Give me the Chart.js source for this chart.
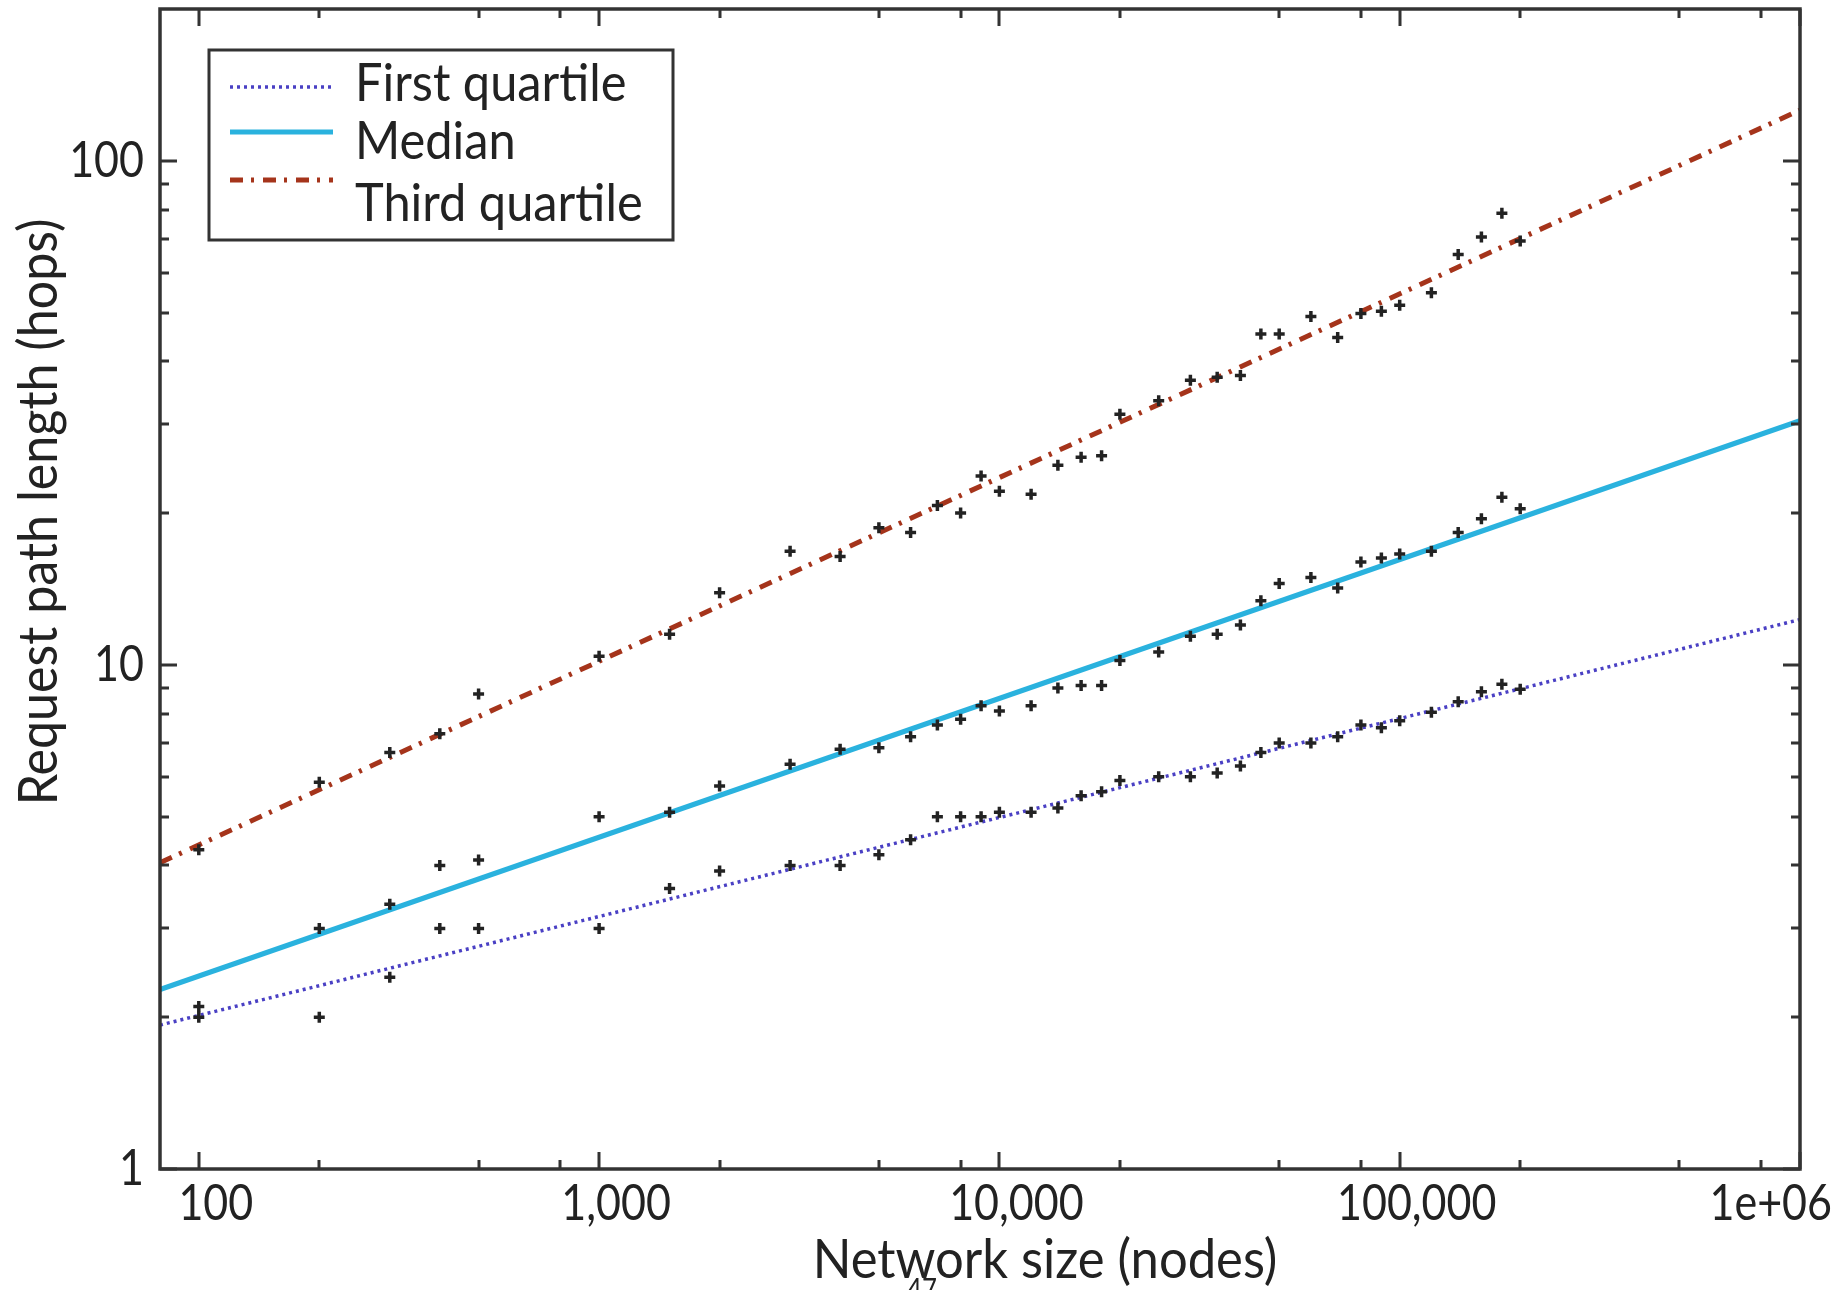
<!DOCTYPE html>
<html>
<head>
<meta charset="utf-8">
<script src="https://cdn.jsdelivr.net/npm/chart.js@4.4.1/dist/chart.umd.min.js"></script>
<style>
  html, body { margin: 0; padding: 0; background: #fff; }
</style>
</head>
<body>
<canvas id="myChart" width="1847" height="1290"></canvas>
<script>
// network sizes (nodes) where the simulation was run
var sizes = [100, 200, 300, 400, 500, 1000, 1500, 2000, 3000, 4000, 5000, 6000, 7000, 8000, 9000,
  10000, 12000, 14000, 16000, 18000, 20000, 25000, 30000, 35000, 40000, 45000, 50000, 60000,
  70000, 80000, 90000, 100000, 120000, 140000, 160000, 180000, 200000];

// measured path lengths (hops)
var firstQuartile = [2.0, 2.0, 2.4, 3.0, 3.0, 3.0, 3.6, 3.9, 4.0, 4.0, 4.2, 4.5, 5.0, 5.0, 5.0,
  5.1, 5.1, 5.2, 5.5, 5.6, 5.9, 6.0, 6.0, 6.1, 6.3, 6.7, 7.0, 7.0,
  7.2, 7.6, 7.5, 7.75, 8.05, 8.45, 8.85, 9.15, 8.95];
var median = [2.1, 3.0, 3.35, 4.0, 4.1, 5.0, 5.1, 5.75, 6.35, 6.8, 6.85, 7.2, 7.6, 7.8, 8.3,
  8.1, 8.3, 9.0, 9.1, 9.1, 10.2, 10.6, 11.4, 11.5, 12.0, 13.4, 14.5, 14.9,
  14.2, 16.0, 16.3, 16.6, 16.8, 18.3, 19.5, 21.5, 20.4];
var thirdQuartile = [4.3, 5.85, 6.7, 7.3, 8.75, 10.4, 11.5, 13.9, 16.8, 16.4, 18.7, 18.3, 20.7, 20.0, 23.7,
  22.1, 21.8, 24.9, 25.8, 26.0, 31.4, 33.4, 36.7, 37.2, 37.5, 45.3, 45.3, 49.1,
  44.6, 49.8, 50.3, 51.7, 54.7, 65.2, 70.6, 78.7, 69.3];

var fitSizes = [80, 1000000];
var firstQuartileFit = [1.93, 12.3];
var medianFit = [2.27, 30.5];
var thirdQuartileFit = [4.05, 126];

var seriesNames = ['First quartile', 'Median', 'Third quartile'];

// axes
var xRange = [80, 1000000];
var yRange = [1, 200];
var xTicks = [100, 1000, 10000, 100000, 1000000];
var xTickLabels = ['100', '1,000', '10,000', '100,000', '1e+06'];
var xMinorTicks = [200, 500, 800, 2000, 5000, 8000, 20000, 50000, 80000, 200000, 500000, 800000];
var yTicks = [1, 10, 100];
var yTickLabels = ['1', '10', '100'];
var yMinorTicks = [2, 3, 4, 5, 6, 7, 8, 9, 20, 30, 40, 50, 60, 70, 80, 90];
var xTitle = 'Network size (nodes)';
var yTitle = 'Request path length (hops)';

function toPoints(xs, ys) {
  var pts = [];
  for (var i = 0; i < xs.length; i++) {
    pts.push({ x: xs[i], y: ys[i] });
  }
  return pts;
}

var textColor = '#222';
var frameColor = '#333';

// draws text squeezed horizontally, the nearest we get to the narrow original face
function drawText(ctx, text, x, y, align, squeeze) {
  ctx.save();
  ctx.translate(x, y);
  ctx.scale(squeeze, 1);
  ctx.textAlign = align;
  ctx.fillText(text, 0, 0);
  ctx.restore();
}

function pointSet(data) {
  return {
    data: data,
    showLine: false,
    pointStyle: 'cross',
    pointRadius: 5.5,
    pointBorderWidth: 3.5,
    borderColor: '#222',
    backgroundColor: '#222',
    legendSkip: true
  };
}

function fitSet(label, data, color, width, dash) {
  return {
    label: label,
    data: data,
    showLine: true,
    borderColor: color,
    backgroundColor: color,
    borderWidth: width,
    borderDash: dash,
    pointRadius: 0,
    fill: false
  };
}

var datasets = [
  pointSet(toPoints(sizes, firstQuartile)),
  pointSet(toPoints(sizes, median)),
  pointSet(toPoints(sizes, thirdQuartile)),
  fitSet(seriesNames[0], toPoints(fitSizes, firstQuartileFit), '#4a40c4', 3.5, [3, 4]),
  fitSet(seriesNames[1], toPoints(fitSizes, medianFit), '#2ab2de', 5, []),
  fitSet(seriesNames[2], toPoints(fitSizes, thirdQuartileFit), '#a5341b', 5, [13, 8, 3, 9])
];

// frame, inward ticks, labels, titles and legend
var framePlugin = {
  id: 'frame',
  afterDraw: function (chart) {
    var ctx = chart.ctx;
    var a = chart.chartArea;
    var xs = chart.scales.x;
    var ys = chart.scales.y;
    var i, p;

    ctx.save();
    ctx.strokeStyle = frameColor;
    ctx.lineWidth = 3;
    ctx.lineCap = 'butt';

    function xTick(v, len) {
      p = Math.round(xs.getPixelForValue(v));
      ctx.beginPath();
      ctx.moveTo(p, a.bottom); ctx.lineTo(p, a.bottom - len);
      ctx.moveTo(p, a.top); ctx.lineTo(p, a.top + len);
      ctx.stroke();
    }
    function yTick(v, len) {
      p = Math.round(ys.getPixelForValue(v));
      ctx.beginPath();
      ctx.moveTo(a.left, p); ctx.lineTo(a.left + len, p);
      ctx.moveTo(a.right, p); ctx.lineTo(a.right - len, p);
      ctx.stroke();
    }
    for (i = 0; i < xTicks.length; i++) xTick(xTicks[i], 17);
    for (i = 0; i < xMinorTicks.length; i++) xTick(xMinorTicks[i], 9);
    for (i = 0; i < yTicks.length; i++) yTick(yTicks[i], 17);
    for (i = 0; i < yMinorTicks.length; i++) yTick(yMinorTicks[i], 9);

    ctx.lineWidth = 3.5;
    ctx.strokeRect(a.left, a.top, a.right - a.left, a.bottom - a.top);

    // tick labels
    ctx.fillStyle = textColor;
    ctx.font = '50px Lato';
    ctx.textBaseline = 'middle';
    for (i = 0; i < yTicks.length; i++) {
      drawText(ctx, yTickLabels[i], a.left - 16, ys.getPixelForValue(yTicks[i]), 'right', 0.86);
    }
    ctx.textBaseline = 'alphabetic';
    for (i = 0; i < xTicks.length; i++) {
      p = xs.getPixelForValue(xTicks[i]);
      if (i === xTicks.length - 1) {
        drawText(ctx, xTickLabels[i], chart.width - 15, a.bottom + 51, 'right', 0.86);
      } else {
        drawText(ctx, xTickLabels[i], p + 17, a.bottom + 51, 'center', 0.86);
      }
    }

    // axis titles
    ctx.font = '54px Lato';
    drawText(ctx, xTitle, (a.left + a.right) / 2 + 65, a.bottom + 109, 'center', 0.94);
    ctx.save();
    ctx.translate(57, 512);
    ctx.rotate(-Math.PI / 2);
    drawText(ctx, yTitle, 0, 0, 'center', 0.93);
    ctx.restore();

    // legend box
    var box = { left: 209, top: 50, right: 673, bottom: 240 };
    ctx.lineWidth = 3;
    ctx.strokeStyle = frameColor;
    ctx.strokeRect(box.left, box.top, box.right - box.left, box.bottom - box.top);
    var sampleY = [87, 132, 180];
    var textY = [101, 159, 221];
    var fits = chart.data.datasets.filter(function (d) { return !d.legendSkip; });
    ctx.font = '53px Lato';
    for (i = 0; i < fits.length; i++) {
      var d = fits[i];
      ctx.save();
      ctx.strokeStyle = d.borderColor;
      ctx.lineWidth = d.borderWidth;
      ctx.setLineDash(d.borderDash);
      ctx.beginPath();
      ctx.moveTo(230, sampleY[i]);
      ctx.lineTo(333, sampleY[i]);
      ctx.stroke();
      ctx.restore();
      drawText(ctx, d.label, 355, textY[i], 'left', 0.92);
    }

    // page number cut by the bottom edge
    ctx.font = '30px Lato';
    drawText(ctx, '47', 922, chart.height + 10, 'center', 0.86);
    ctx.restore();
  }
};

var graficar = document.getElementById('myChart');
var grafico = new Chart(graficar, {
  type: 'scatter',
  data: { datasets: datasets },
  plugins: [framePlugin],
  options: {
    responsive: false,
    animation: false,
    devicePixelRatio: 1,
    layout: { padding: { left: 160, right: 47, top: 8, bottom: 121 } },
    plugins: {
      legend: { display: false },
      tooltip: { enabled: false }
    },
    scales: {
      x: {
        type: 'logarithmic',
        min: xRange[0],
        max: xRange[1],
        bounds: 'data',
        display: false
      },
      y: {
        type: 'logarithmic',
        min: yRange[0],
        max: yRange[1],
        bounds: 'data',
        display: false
      }
    }
  }
});
</script>
</body>
</html>
